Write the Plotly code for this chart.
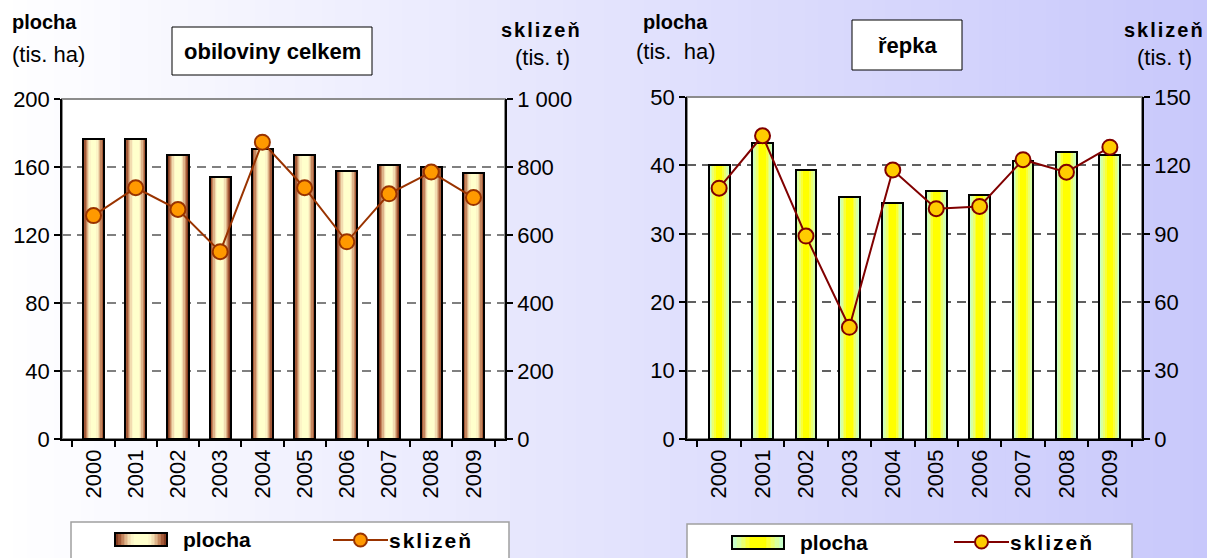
import plotly.graph_objects as go

# ---------------- data ----------------
years = ['2000', '2001', '2002', '2003', '2004', '2005', '2006', '2007', '2008', '2009']
obil_plocha = [176.5, 176.5, 167, 154, 170.5, 167, 157.5, 161, 160, 156.5]
obil_sklizen = [657, 739, 675, 551, 873, 739, 580, 721, 785, 710]
repka_plocha = [40.0, 43.3, 39.4, 35.4, 34.5, 36.2, 35.7, 40.6, 42.0, 41.5]
repka_sklizen = [110, 133, 89, 49, 118, 101, 102, 122.5, 117, 128]

W, H = 1207, 558
FONT = "Liberation Sans, Arial, sans-serif"


def px(x):
    return x / W


def py(y):
    return 1 - y / H


# gradient layers (fraction of bar width, colour) edge -> centre
brown_layers = [(1.00, '#843c20'), (0.88, '#a45a38'), (0.76, '#c4865e'),
                (0.64, '#deb48a'), (0.52, '#f2dcb0'), (0.40, '#fcf4c6'), (0.28, '#ffffcc')]
green_layers = [(1.00, '#c8ffc8'), (0.82, '#d8ffa0'), (0.64, '#eaff70'),
                (0.48, '#faff38'), (0.32, '#ffff00')]

fig = go.Figure()


def add_bars(values, layers, width, xa, ya):
    for frac, col in layers:
        fig.add_trace(go.Bar(x=years, y=values, width=width * frac, marker=dict(color=col, line=dict(width=0)),
                             xaxis=xa, yaxis=ya, showlegend=False, hoverinfo='skip'))
    fig.add_trace(go.Bar(x=years, y=values, width=width, name='plocha',
                         marker=dict(color='rgba(0,0,0,0)', line=dict(color='#000000', width=2)),
                         xaxis=xa, yaxis=ya, showlegend=False))


add_bars(obil_plocha, brown_layers, 0.5, 'x', 'y')
fig.add_trace(go.Scatter(x=years, y=obil_sklizen, mode='lines+markers', name='sklizeň',
                         line=dict(color='#993300', width=2),
                         marker=dict(size=15, color='#ff9900', line=dict(color='#993300', width=2)),
                         xaxis='x', yaxis='y2', showlegend=False))

add_bars(repka_plocha, green_layers, 0.48, 'x2', 'y3')
fig.add_trace(go.Scatter(x=years, y=repka_sklizen, mode='lines+markers', name='sklizeň',
                         line=dict(color='#800000', width=2),
                         marker=dict(size=15, color='#ffcc00', line=dict(color='#800000', width=2)),
                         xaxis='x2', yaxis='y4', showlegend=False))

shapes = []
# page background gradient (white -> lavender)
N = 90
for i in range(N):
    t = (i + 0.5) / N
    r = int(round(255 - 55 * t))
    g = int(round(255 - 55 * t))
    b = int(round(255 - 4 * t))
    shapes.append(dict(type='rect', xref='paper', yref='paper', x0=i / N, x1=(i + 1) / N + 0.002,
                       y0=-0.01, y1=1.01, fillcolor=f'rgb({r},{g},{b})', line=dict(width=0), layer='below'))

# white plot areas with grey frame
for xa, ya in (('x', 'y'), ('x2', 'y3')):
    shapes.append(dict(type='rect', xref=f'{xa} domain', yref=f'{ya} domain', x0=0, x1=1, y0=0, y1=1,
                       fillcolor='white', line=dict(color='#8c8c8c', width=2), layer='below'))

# title boxes
shapes.append(dict(type='rect', xref='paper', yref='paper', x0=px(172), x1=px(372), y0=py(75), y1=py(27),
                   fillcolor='white', line=dict(color='#000', width=1)))
shapes.append(dict(type='rect', xref='paper', yref='paper', x0=px(852), x1=px(962), y0=py(70), y1=py(20),
                   fillcolor='white', line=dict(color='#000', width=1)))

annotations = []


def text(x, y, s, size=19, bold=False, anchor='center'):
    annotations.append(dict(x=px(x), y=py(y), xref='paper', yref='paper', showarrow=False,
                            text=f'<b>{s}</b>' if bold else s, xanchor=anchor, yanchor='middle',
                            font=dict(family=FONT, size=size, color='#000')))


text(272, 51, 'obiloviny celkem', 22, True)
text(907, 45, 'řepka', 22, True)
text(44, 22, 'plocha', 20, True)
text(48, 55, '(tis. ha)', 22)
text(541, 30, 'sklizeň', 20, True)
text(542, 58, '(tis. t)', 22)
text(676, 22, 'plocha', 20, True)
text(676, 52, '(tis.  ha)', 22)
text(1164, 30, 'sklizeň', 20, True)
text(1164, 58, '(tis. t)', 22)


# manual legends
def legend(box, sw, layers, line_x, line_y, lcol, mcol, t1x, t2x):
    bx0, bx1, by0 = box
    shapes.append(dict(type='rect', xref='paper', yref='paper', x0=px(bx0), x1=px(bx1), y0=py(H + 5), y1=py(by0),
                       fillcolor='white', line=dict(color='#a0a0a0', width=1.5)))
    sx0, sx1, sy0, sy1 = sw
    cx = (sx0 + sx1) / 2
    half = (sx1 - sx0) / 2
    for frac, col in layers:
        shapes.append(dict(type='rect', xref='paper', yref='paper', x0=px(cx - half * frac), x1=px(cx + half * frac),
                           y0=py(sy1), y1=py(sy0), fillcolor=col, line=dict(width=0)))
    shapes.append(dict(type='rect', xref='paper', yref='paper', x0=px(sx0), x1=px(sx1), y0=py(sy1), y1=py(sy0),
                       line=dict(color='#000', width=2)))
    shapes.append(dict(type='line', xref='paper', yref='paper', x0=px(line_x[0]), x1=px(line_x[1]),
                       y0=py(line_y), y1=py(line_y), line=dict(color=lcol, width=2)))
    mx = (line_x[0] + line_x[1]) / 2
    shapes.append(dict(type='circle', xref='paper', yref='paper', x0=px(mx - 6.5), x1=px(mx + 6.5),
                       y0=py(line_y + 6.5), y1=py(line_y - 6.5), fillcolor=mcol, line=dict(color=lcol, width=2)))
    text(t1x, (sy0 + sy1) / 2, 'plocha', 21, True, 'left')
    text(t2x, line_y, 'sklizeň', 21, True, 'left')


legend((71, 509, 522), (115, 167, 533, 546), brown_layers, (333, 388), 540, '#993300', '#ff9900', 181, 394)
legend((687, 1132, 524), (732, 784, 536, 549), green_layers, (954, 1009), 542, '#800000', '#ffcc00', 798, 1015)

tickfont = dict(family=FONT, size=22, color='#000')
common_y = dict(ticks='outside', ticklen=6, tickwidth=1.5, tickcolor='#000', showline=True, linecolor='#000',
                linewidth=1.5, zeroline=False, tickfont=tickfont, fixedrange=True, automargin=False)
common_x = dict(type='category', tickangle=-90, ticks='outside', ticklen=6, tickwidth=1.5, tickcolor='#000',
                tickson='boundaries', showline=True, linecolor='#000', linewidth=1.5, showgrid=False,
                tickfont=tickfont, fixedrange=True, automargin=False)
grid = dict(showgrid=True, gridcolor='#808080', gridwidth=1.5, griddash='9px,6px')

fig.update_layout(
    width=W, height=H, margin=dict(l=0, r=0, t=0, b=0, pad=0, autoexpand=False),
    paper_bgcolor='white', plot_bgcolor='rgba(0,0,0,0)',
    barmode='overlay', bargap=0, separators=', ',
    font=dict(family=FONT, size=19, color='#000'),
    showlegend=False,
    xaxis=dict(domain=[px(62), px(505)], anchor='y', **common_x),
    yaxis=dict(domain=[py(439), py(99)], range=[0, 200], dtick=40, anchor='x', **common_y, **grid),
    yaxis2=dict(overlaying='y', side='right', anchor='x', range=[0, 1000], dtick=200, showgrid=False,
                separatethousands=True, **common_y),
    xaxis2=dict(domain=[px(687), px(1142)], anchor='y3', **common_x),
    yaxis3=dict(domain=[py(439), py(97)], range=[0, 50], dtick=10, anchor='x2', **common_y,
                **dict(grid, gridcolor='#606060')),
    yaxis4=dict(overlaying='y3', side='right', anchor='x2', range=[0, 150], dtick=30, showgrid=False,
                **common_y),
    shapes=shapes, annotations=annotations,
)

post = """
document.documentElement.style.margin='0';
document.documentElement.style.overflow='hidden';
document.body.style.margin='0';
document.body.style.overflow='hidden';
function spaceOut(){
  document.querySelectorAll('text.annotation-text').forEach(function(t){
    if(t.textContent.indexOf('sklize')===0){ t.style.letterSpacing='2px'; }
  });
}
spaceOut(); setTimeout(spaceOut,50); setTimeout(spaceOut,300);
"""

fig.write_html("out.html", post_script=post, config={'displayModeBar': False})
